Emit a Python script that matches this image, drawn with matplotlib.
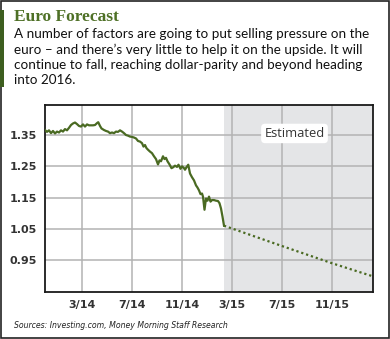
import numpy as np
import matplotlib
matplotlib.use("Agg")
import matplotlib.pyplot as plt
from matplotlib.patches import Rectangle

# EUR/USD, months counted from Jan 1 2014
hist_month = [-0.96, -0.8, -0.64, -0.48, -0.32, -0.16, 0.0, 0.16, 0.32, 0.48,
              0.64, 0.8, 0.96, 1.12, 1.28, 1.44, 1.6, 1.76, 1.92, 2.08,
              2.24, 2.4, 2.56, 2.72, 2.88, 3.04, 3.2, 3.3, 3.44, 3.56,
              3.76, 3.92, 4.08, 4.24, 4.4, 4.56, 4.72, 4.88, 5.04, 5.2,
              5.36, 5.52, 5.68, 5.84, 6.0, 6.16, 6.32, 6.48, 6.64, 6.8,
              6.92, 7.04, 7.16, 7.28, 7.44, 7.6, 7.76, 7.92, 8.08, 8.2,
              8.32, 8.48, 8.6, 8.72, 8.84, 9.0, 9.16, 9.3, 9.44, 9.6,
              9.72, 9.88, 10.0, 10.16, 10.24, 10.36, 10.5, 10.64, 10.8, 10.96,
              11.12, 11.24, 11.36, 11.48, 11.6, 11.68, 11.8, 11.92, 12.04, 12.16,
              12.28, 12.4, 12.56, 12.72, 12.88, 13.0, 13.12, 13.24, 13.36]
hist_rate = [1.366, 1.360, 1.365, 1.356, 1.363, 1.355, 1.361, 1.358, 1.365, 1.361,
             1.369, 1.365, 1.373, 1.382, 1.387, 1.390, 1.385, 1.379, 1.377, 1.384,
             1.377, 1.384, 1.381, 1.381, 1.381, 1.382, 1.388, 1.391, 1.379, 1.371,
             1.366, 1.363, 1.361, 1.356, 1.358, 1.356, 1.361, 1.360, 1.365, 1.361,
             1.356, 1.350, 1.348, 1.345, 1.344, 1.342, 1.339, 1.331, 1.329, 1.324,
             1.313, 1.318, 1.308, 1.303, 1.297, 1.292, 1.282, 1.273, 1.256, 1.269,
             1.266, 1.282, 1.273, 1.277, 1.266, 1.256, 1.244, 1.247, 1.252, 1.248,
             1.255, 1.242, 1.250, 1.244, 1.239, 1.247, 1.255, 1.227, 1.215, 1.205,
             1.189, 1.182, 1.173, 1.161, 1.163, 1.153, 1.111, 1.147, 1.140, 1.153,
             1.137, 1.142, 1.142, 1.140, 1.139, 1.132, 1.115, 1.089, 1.060]

fcst_month = [13.36, 18.0, 22.0, 25.28]
fcst_rate = [1.060, 0.995, 0.940, 0.898]

tick_month = [2, 6, 10, 14, 18, 22]
tick_label = ["3/14", "7/14", "11/14", "3/15", "7/15", "11/15"]
y_ticks = [0.95, 1.05, 1.15, 1.25, 1.35]

green = "#4a6a22"
tick_color = "#333333"

fig = plt.figure(figsize=(3.9, 3.39), dpi=100)

# outer frame and green accent bar
fig.patches.append(Rectangle((0.002, 0.003), 0.995, 0.994, transform=fig.transFigure,
                             fill=False, edgecolor="#222222", linewidth=1.2))
fig.patches.append(Rectangle((0.0, 1 - 87 / 339), 4 / 390, 77 / 339, transform=fig.transFigure,
                             facecolor="#3d5e1f", edgecolor="none"))

fig.text(14 / 390, 1 - 9 / 339, "Euro Forecast", family="Liberation Serif",
         weight="bold", fontsize=12.5, color="#4e7026", va="top", ha="left")
body = ("A number of factors are going to put selling pressure on the\n"
        "euro \u2013 and there\u2019s very little to help it on the upside. It will\n"
        "continue to fall, reaching dollar-parity and beyond heading\n"
        "into 2016.")
fig.text(14 / 390, 1 - 28 / 339, body, family="Lato", fontsize=9.7,
         color="#111111", va="top", ha="left", linespacing=1.3)

ax = fig.add_axes([45 / 390, 1 - 292 / 339, 328 / 390, 187 / 339])
ax.set_xlim(-0.96, 25.28)
ax.set_ylim(0.848, 1.446)

ax.axvspan(hist_month[-1], 25.28, color="#e4e5e7", zorder=0, linewidth=0)

ax.set_xticks(tick_month)
ax.set_xticklabels(tick_label)
ax.set_yticks(y_ticks)
ax.set_yticklabels([f"{v:.2f}" for v in y_ticks])
ax.grid(True, color="#b3b3b3", linewidth=1.1, zorder=1)
ax.set_axisbelow(True)
ax.tick_params(length=0, pad=6, labelsize=8, labelcolor=tick_color)
for lab in ax.get_xticklabels() + ax.get_yticklabels():
    lab.set_fontweight("bold")
for sp in ax.spines.values():
    sp.set_color("#1a1a1a")
    sp.set_linewidth(1.3)

ax.plot(hist_month, hist_rate, color=green, linewidth=1.6, zorder=3)
ax.plot(fcst_month, fcst_rate, color=green, linewidth=1.6, linestyle=(0, (1, 1.3)), zorder=3)

ax.text(19.0, 1.355, "Estimated", ha="center", va="center", fontsize=9.3,
        family="Open Sans", color="#333333", zorder=4,
        bbox=dict(boxstyle="round,pad=0.25,rounding_size=0.3", facecolor="white", edgecolor="none"))

fig.text(14 / 390, 1 - 326 / 339, "Sources: Investing.com, Money Morning Staff Research",
         fontsize=5.6, style="italic", family="DejaVu Sans", color="#222222",
         va="center", ha="left")

fig.savefig("out.png", dpi=100)
